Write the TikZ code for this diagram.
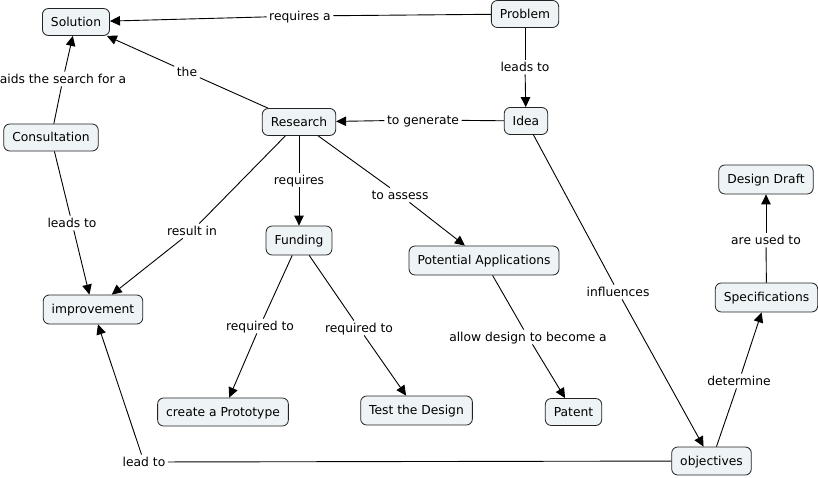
\documentclass[tikz,border=0pt]{standalone}
\usepackage{fontspec}
\setmainfont{DejaVu Sans}
\usetikzlibrary{arrows.meta}
\definecolor{cfill}{RGB}{238,243,246}
\definecolor{cedge}{RGB}{35,35,35}
\begin{document}
\begin{tikzpicture}[x=1pt,y=-1pt,
  txt/.style={font=\fontsize{12.3}{14}\selectfont, text height=10.6pt, text depth=1.8pt},
  concept/.style={txt, draw=cedge, fill=cfill, rounded corners=6pt, line width=0.8pt,
    inner xsep=8.5pt, inner ysep=0pt, minimum height=27pt},
  lbl/.style={txt, inner xsep=2.5pt, inner ysep=1pt},
  link/.style={line width=0.9pt, draw=black},
  arr/.style={link, -{Triangle[length=10pt,width=9.5pt]}}]
\useasboundingbox (0,0) rectangle (818,478);
% concepts
\node[concept] (solution) at (76,22) {Solution};
\node[concept] (problem) at (525,14) {Problem};
\node[concept] (idea) at (526,121) {Idea};
\node[concept] (research) at (299,122) {Research};
\node[concept] (consult) at (51,137.5) {Consultation};
\node[concept, minimum height=29pt] (funding) at (299,240.5) {Funding};
\node[concept, minimum height=29pt] (potapp) at (484,260.5) {Potential Applications};
\node[concept, minimum height=29pt] (improve) at (93,309.5) {improvement};
\node[concept, minimum height=28pt] (proto) at (223,412) {create a Prototype};
\node[concept, minimum height=29pt] (test) at (416.5,410.5) {Test the Design};
\node[concept] (patent) at (573.5,412) {Patent};
\node[concept, minimum height=28pt] (objectives) at (711.5,461) {objectives};
\node[concept, minimum height=29pt] (draft) at (766,179.5) {Design Draft};
\node[concept, minimum height=29pt] (specs) at (766.5,297.5) {Specifications};
% link labels
\node[lbl] (l1) at (300,16) {requires a};
\node[lbl] (l2) at (525,67) {leads to};
\node[lbl] (l3) at (423,120) {to generate};
\node[lbl] (l4) at (187,72) {the};
\node[lbl] (l5) at (63,79) {aids the search for a};
\node[lbl] (l6) at (72,223) {leads to};
\node[lbl] (l7) at (192,231) {result in};
\node[lbl] (l8) at (299,180) {requires};
\node[lbl] (l9) at (400,195) {to assess};
\node[lbl] (l10) at (260,326) {required to};
\node[lbl] (l11) at (359,328) {required to};
\node[lbl] (l12) at (528,337) {allow design to become a};
\node[lbl] (l13) at (618,292) {influences};
\node[lbl] (l14) at (766,240) {are used to};
\node[lbl] (l15) at (739,381) {determine};
\node[lbl] (l16) at (144,462) {lead to};
% connectors
\draw[link] (problem) -- (l1); \draw[arr] (l1) -- (solution);
\draw[link] (problem) -- (l2); \draw[arr] (l2) -- (idea);
\draw[link] (idea) -- (l3); \draw[arr] (l3) -- (research);
\draw[link] (research) -- (l4); \draw[arr] (l4) -- (solution);
\draw[link] (consult) -- (l5); \draw[arr] (l5) -- (solution);
\draw[link] (consult) -- (l6); \draw[arr] (l6) -- (improve);
\draw[link] (research) -- (l7); \draw[arr] (l7) -- (improve);
\draw[link] (research) -- (l8); \draw[arr] (l8) -- (funding);
\draw[link] (research) -- (l9); \draw[arr] (l9) -- (potapp);
\draw[link] (funding) -- (l10); \draw[arr] (l10) -- (proto);
\draw[link] (funding) -- (l11); \draw[arr] (l11) -- (test);
\draw[link] (potapp) -- (l12); \draw[arr] (l12) -- (patent);
\draw[link] (idea) -- (l13); \draw[arr] (l13) -- (objectives);
\draw[link] (specs) -- (l14); \draw[arr] (l14) -- (draft);
\draw[link] (objectives) -- (l15); \draw[arr] (l15) -- (specs);
\draw[link] (objectives) -- (l16); \draw[arr] (l16) -- (improve);
\end{tikzpicture}
\end{document}
